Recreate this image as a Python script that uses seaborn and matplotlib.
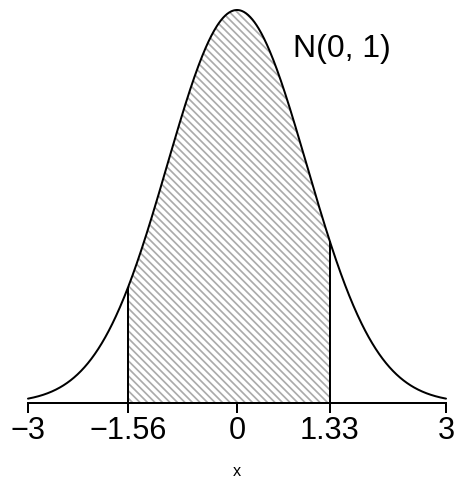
import numpy as np
import pandas as pd
import matplotlib
matplotlib.use("Agg")
import matplotlib.pyplot as plt
import seaborn as sns

# 标准正态分布 N(0, 1) 以及阴影区间
mu = 0.0
sigma = 1.0
x_min, x_max = -3.0, 3.0
lower, upper = -1.56, 1.33
tick_values = [-3, -1.56, 0, 1.33, 3]
tick_labels = ["\u22123", "\u22121.56", "0", "1.33", "3"]
dist_label = "N(0, 1)"

DPI = 90
PX = 72 / DPI  # 1 像素对应的磅数

sns.set_style("white")
plt.rcParams["font.family"] = ["Liberation Sans", "DejaVu Sans"]
plt.rcParams["text.color"] = "black"
plt.rcParams["axes.labelcolor"] = "black"
plt.rcParams["hatch.linewidth"] = 1.7 * PX
plt.rcParams["hatch.color"] = "#ababab"


def density(x):
    return np.exp(-0.5 * ((x - mu) / sigma) ** 2) / (sigma * np.sqrt(2 * np.pi))


xs = np.linspace(x_min, x_max, 601)
curve = pd.DataFrame({"x": xs, "y": density(xs)})
peak = density(mu)

fig = plt.figure(figsize=(456 / DPI, 479 / DPI), dpi=DPI)
ax = fig.add_axes([28 / 456, (479 - 403) / 479, 418 / 456, 393 / 479])

# 阴影区间 (斜线填充)
xs_in = np.linspace(lower, upper, 301)
ax.fill_between(xs_in, 0, density(xs_in), facecolor="white",
                edgecolor="#ababab", hatch="\\" * 4, linewidth=0)

# 密度曲线
sns.lineplot(data=curve, x="x", y="y", ax=ax, color="black",
             linewidth=2.0 * PX, clip_on=False)

# 区间边界竖线
for b in (lower, upper):
    ax.plot([b, b], [0, density(b)], color="black", linewidth=2.0 * PX,
            clip_on=False, solid_capstyle="butt")

ax.text(1.5, 0.351, dist_label, fontsize=25.5, ha="center", va="baseline",
        color="black")

ax.set_xlim(x_min, x_max)
ax.set_ylim(0, peak)
for side in ("top", "right", "left"):
    ax.spines[side].set_visible(False)
ax.spines["bottom"].set_linewidth(2.0 * PX)
ax.spines["bottom"].set_color("black")
ax.set_yticks([])
ax.set_xticks(tick_values)
ax.set_xticklabels(tick_labels, fontsize=24.5)
ax.tick_params(axis="x", direction="out", length=10 * PX, width=2.0 * PX,
               pad=3 * PX, colors="black", bottom=True)
ax.set_xlabel("x", fontsize=13, labelpad=18 * PX)
ax.set_ylabel("")

fig.savefig("out.png", dpi=DPI)
plt.close(fig)
